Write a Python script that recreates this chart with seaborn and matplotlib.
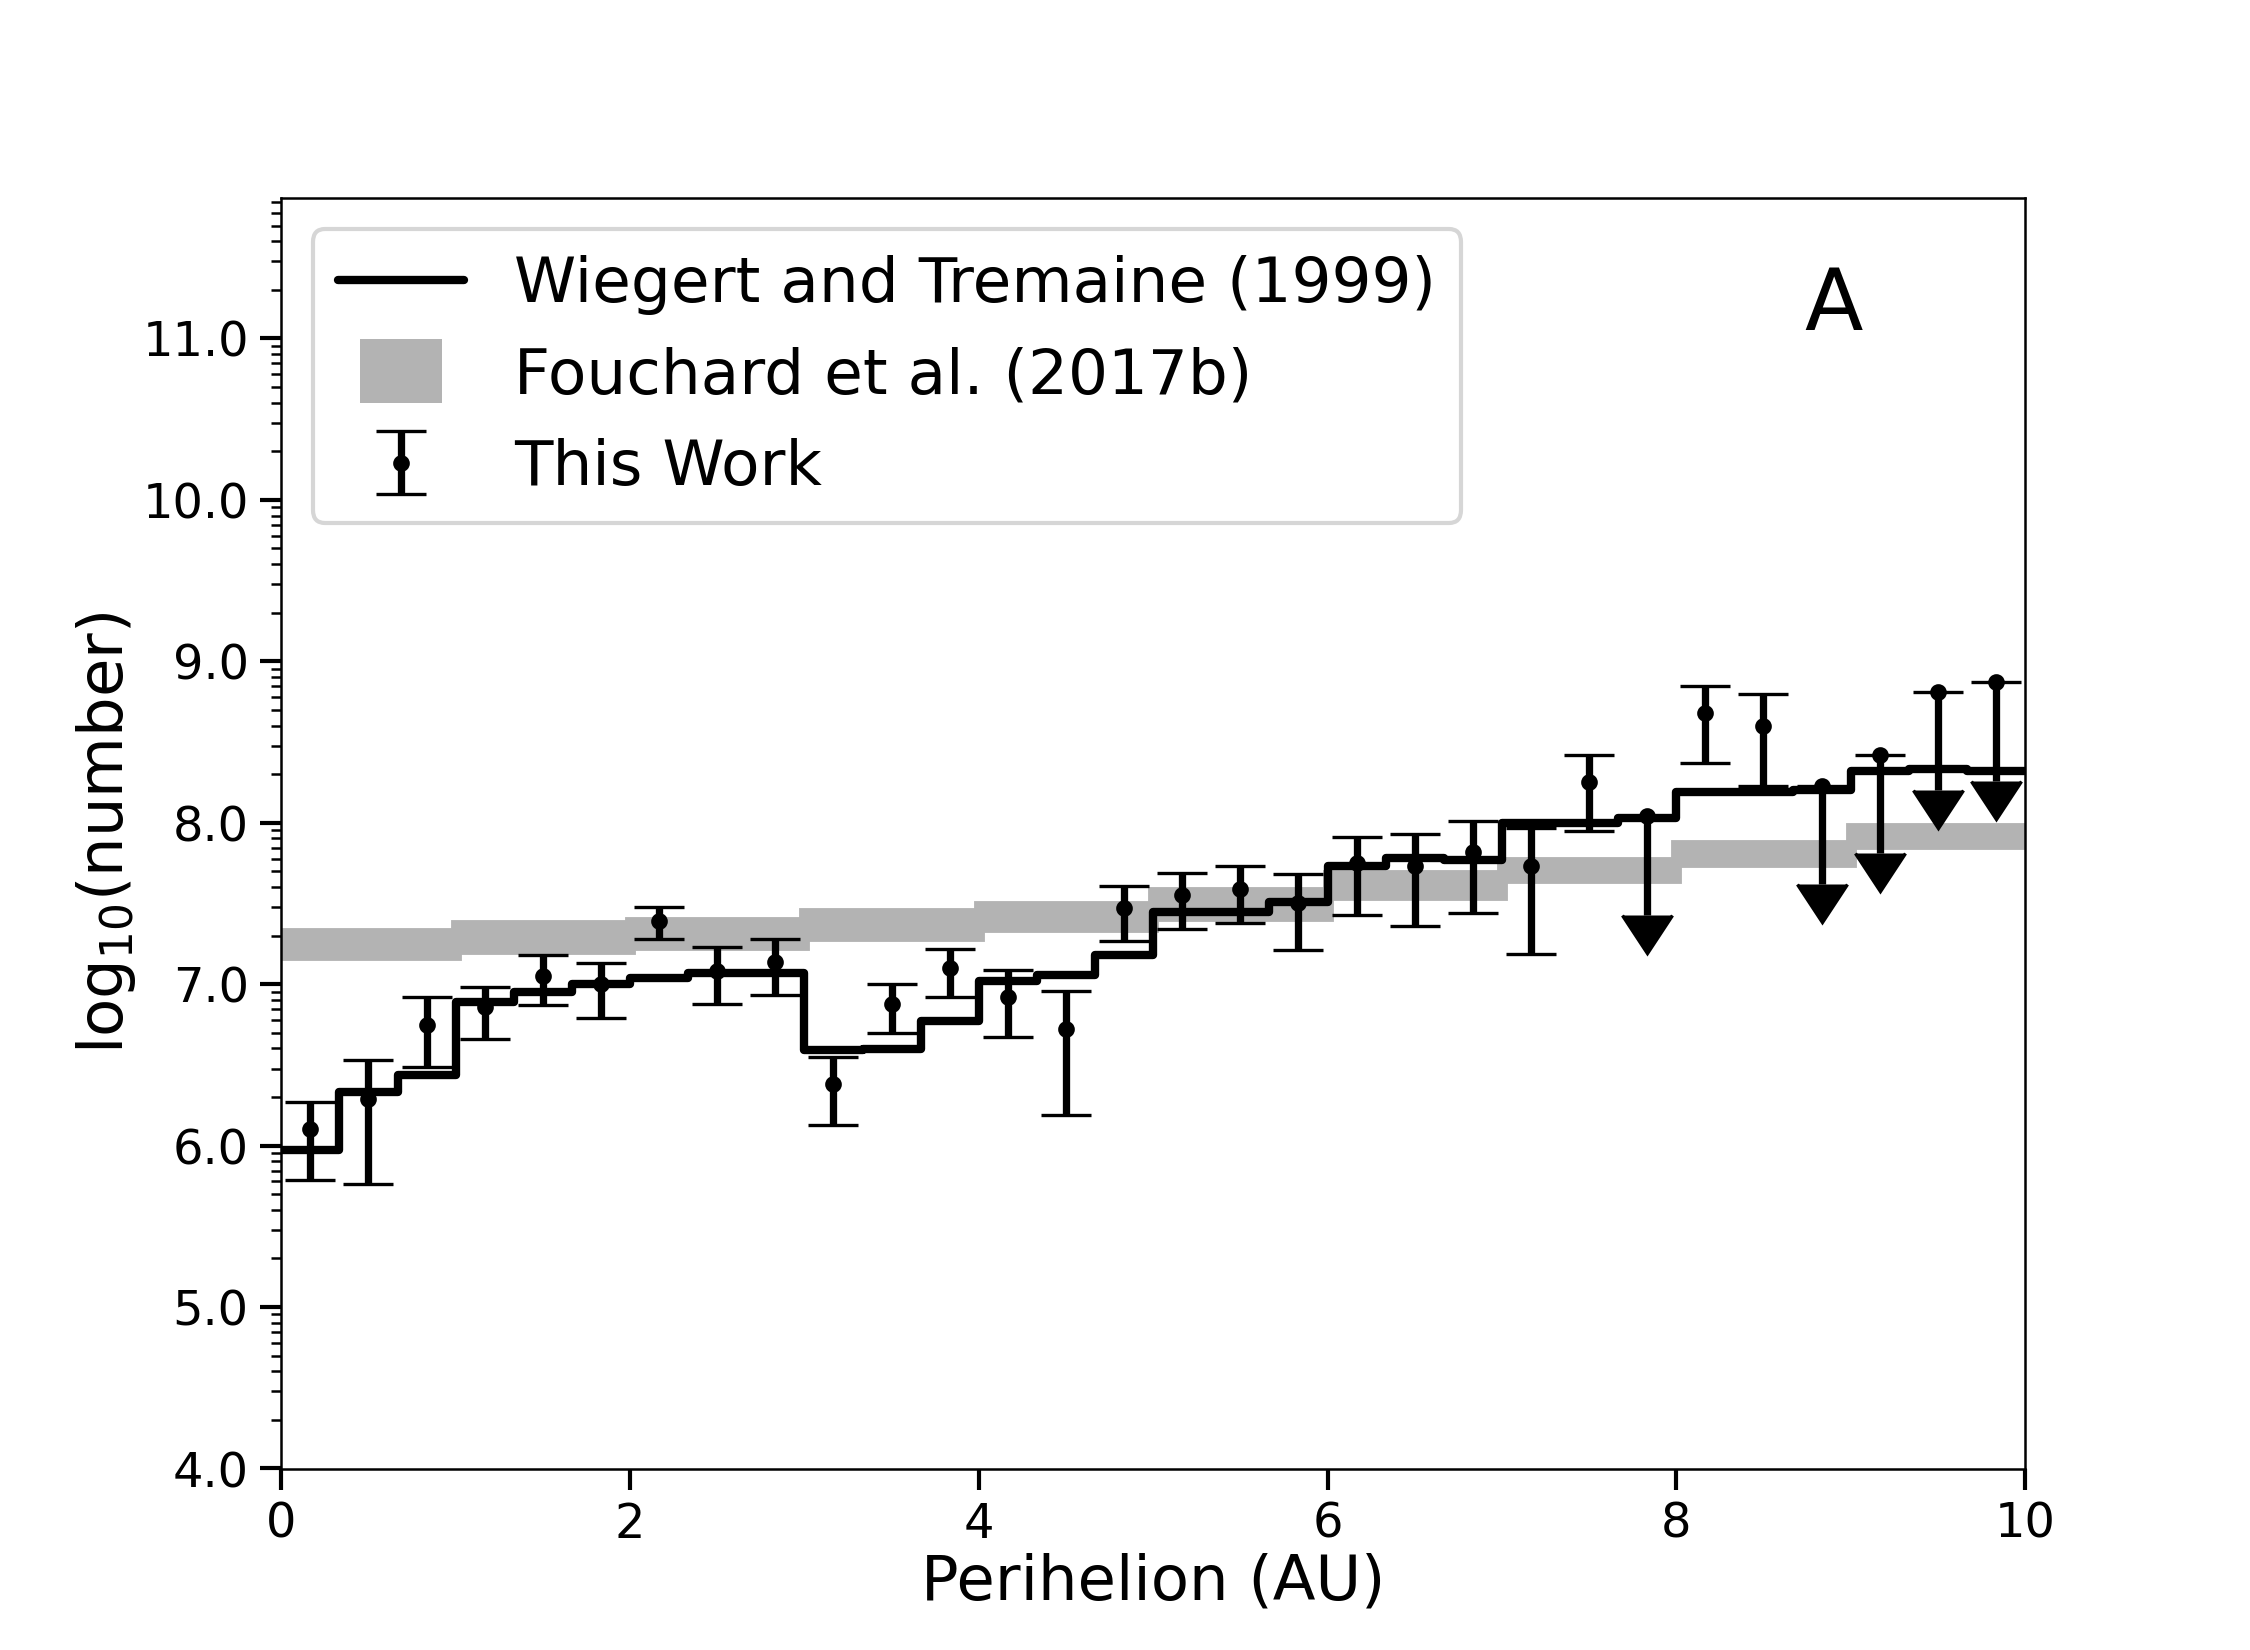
"""
Perihelion distribution: log10(number) vs perihelion, panel A.
"""
import numpy as np
import matplotlib
matplotlib.use('Agg')  # no display
import matplotlib.pyplot as plt
from matplotlib.lines import Line2D
from matplotlib.path import Path
from matplotlib.ticker import FixedLocator, FormatStrFormatter
import seaborn as sns

# Wiegert and Tremaine (1999), 30 bins of 1/3 AU between 0 and 10 AU
wt99_edges = np.linspace(0, 10, 31)
wt99_log_n = [5.97, 6.33, 6.44, 6.89, 6.95, 7.00, 7.04, 7.07, 7.07,
              6.59, 6.60, 6.77, 7.02, 7.06, 7.18, 7.45, 7.45, 7.51,
              7.73, 7.78, 7.77, 8.00, 8.00, 8.03, 8.19, 8.19, 8.20,
              8.32, 8.33, 8.32]

# Fouchard et al. (2017b), range in 1 AU bins
fouchard_left = [0, 1, 2, 3, 4, 5, 6, 7, 8, 9]
fouchard_lo = [7.18, 7.22, 7.245, 7.30, 7.355, 7.42, 7.555, 7.66, 7.755, 7.87]
fouchard_hi = [7.315, 7.365, 7.385, 7.44, 7.485, 7.57, 7.675, 7.76, 7.865, 7.965]

# This work: measured bins
work_q = [0.167, 0.5, 0.833, 1.167, 1.5, 1.833, 2.167, 2.5, 2.833,
          3.167, 3.5, 3.833, 4.167, 4.5, 4.833, 5.167, 5.5, 5.833,
          6.167, 6.5, 6.833, 7.167, 7.5, 8.167, 8.5]
work_log_n = [6.10, 6.29, 6.75, 6.86, 7.05, 7.00, 7.39, 7.08, 7.14,
              6.38, 6.88, 7.10, 6.92, 6.72, 7.47, 7.55, 7.59, 7.50,
              7.75, 7.73, 7.82, 7.73, 8.25, 8.68, 8.60]
work_upper = [6.27, 6.53, 6.92, 6.98, 7.18, 7.13, 7.48, 7.23, 7.28,
              6.55, 7.00, 7.22, 7.09, 6.96, 7.61, 7.69, 7.73, 7.68,
              7.91, 7.93, 8.01, 7.97, 8.42, 8.85, 8.80]
work_lower = [5.79, 5.76, 6.49, 6.66, 6.87, 6.79, 7.28, 6.88, 6.93,
              6.13, 6.70, 6.92, 6.67, 6.19, 7.27, 7.34, 7.38, 7.21,
              7.43, 7.36, 7.44, 7.19, 7.95, 8.37, 8.23]

# This work: upper limits
limit_q = [7.833, 8.833, 9.167, 9.5, 9.833]
limit_log_n = [8.04, 8.23, 8.42, 8.81, 8.87]
limit_arrow = 0.61  # arrow length in dex

GRAY = '0.7'

sns.set_style('ticks', rc={'axes.edgecolor': 'black', 'xtick.color': 'black',
                           'ytick.color': 'black', 'text.color': 'black',
                           'axes.labelcolor': 'black'})
plt.rcParams['font.family'] = ['DejaVu Sans']

fig, ax = plt.subplots(figsize=(7.5, 5.5), dpi=300)

# Fouchard band
band_height = np.array(fouchard_hi) - np.array(fouchard_lo)
ax.bar(fouchard_left, band_height, bottom=fouchard_lo, width=1.0, align='edge',
       color=GRAY, edgecolor=GRAY, linewidth=2.6, zorder=1)

# Wiegert and Tremaine step line
sns.lineplot(x=wt99_edges, y=np.append(wt99_log_n, wt99_log_n[-1]),
             drawstyle='steps-post', color='black', linewidth=2,
             estimator=None, sort=False, ax=ax, legend=False)

# This work
err = [np.array(work_log_n) - np.array(work_lower),
       np.array(work_upper) - np.array(work_log_n)]
eb = ax.errorbar(work_q, work_log_n, yerr=err, fmt='o', color='black', ms=3,
                 elinewidth=1.75, capsize=6, capthick=0.8, zorder=3)
ax.errorbar(limit_q, limit_log_n, yerr=limit_arrow, uplims=True, fmt='o',
            color='black', ms=3, elinewidth=1.75, capsize=6, capthick=0.8,
            zorder=3)

ax.set_xlim(0, 10)
ax.set_ylim(4.0, 11.87)
ax.set_xticks([0, 2, 4, 6, 8, 10])
ax.set_yticks(range(4, 12))
ax.yaxis.set_major_formatter(FormatStrFormatter('%.1f'))
minor = [n + np.log10(k) for n in range(4, 12) for k in range(2, 10)]
ax.yaxis.set_minor_locator(FixedLocator([m for m in minor if m < 11.87]))
ax.tick_params(which='major', length=5, width=1.0, pad=2.8, labelsize=11.5)
ax.tick_params(which='minor', length=2.4, width=0.6)
ax.tick_params(axis='x', which='minor', length=0)
for s in ax.spines.values():
    s.set_linewidth(0.6)

ax.set_xlabel('Perihelion (AU)', fontsize=15, labelpad=1.0)
ax.set_ylabel('log$_{10}$(number)', fontsize=15, labelpad=1.0)
ax.text(8.9, 11.2, 'A', fontsize=20.5, ha='center', va='center')

# legend proxy for the band
rect = Path([(-0.65, -0.5), (0.65, -0.5), (0.65, 0.5), (-0.65, 0.5), (-0.65, -0.5)],
            closed=True)
band_proxy = Line2D([], [], ls='none', marker=rect, markersize=19.7,
                    color=GRAY, markeredgewidth=0)
line_proxy = Line2D([], [], color='black', linewidth=2)
ax.legend([line_proxy, band_proxy, eb],
          ['Wiegert and Tremaine (1999)', 'Fouchard et al. (2017b)', 'This Work'],
          loc='upper left', fontsize=15.1)

fig.savefig('out.png', dpi=300)
